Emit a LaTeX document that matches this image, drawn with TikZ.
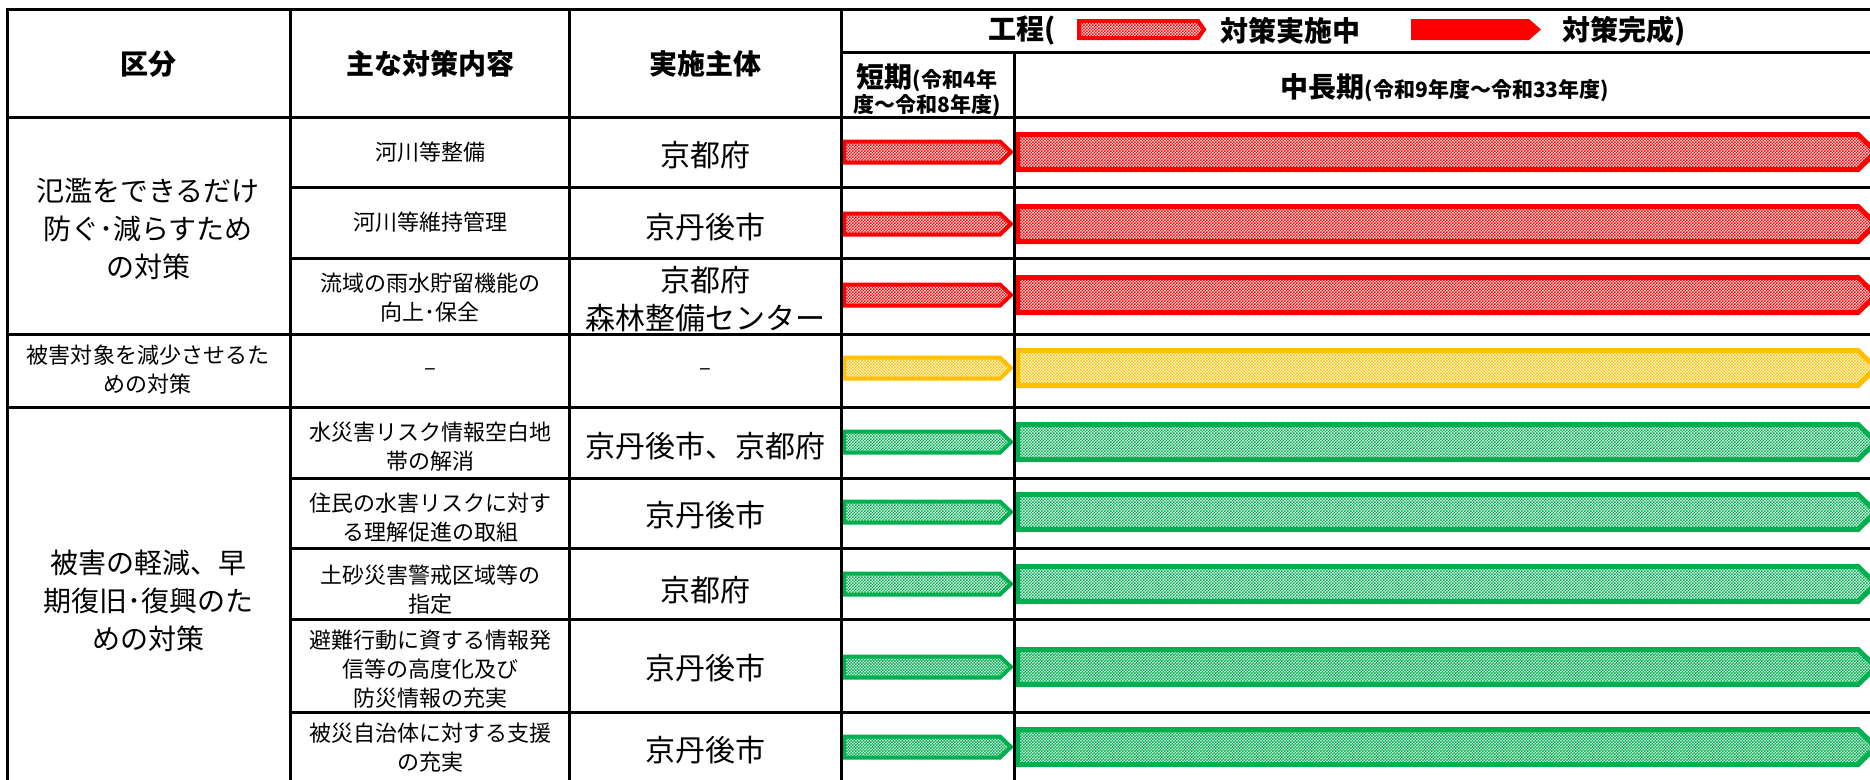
\documentclass[tikz,border=0pt]{standalone}
\usepackage{fontspec}
\setmainfont{Noto Sans CJK JP}
\usetikzlibrary{patterns}
\definecolor{jred}{HTML}{FF0000}
\definecolor{jyel}{HTML}{FFC000}
\definecolor{jgrn}{HTML}{00B050}
\pgfdeclarepatternformonly{finecheck}{\pgfqpoint{-.05pt}{-.05pt}}{\pgfqpoint{3.05pt}{3.05pt}}{\pgfqpoint{3pt}{3pt}}{%
  \pgfpathrectangle{\pgfqpoint{0pt}{0pt}}{\pgfqpoint{1.55pt}{1.55pt}}%
  \pgfpathrectangle{\pgfqpoint{1.5pt}{1.5pt}}{\pgfqpoint{1.55pt}{1.55pt}}%
  \pgfusepath{fill}}
\newcommand{\shbar}[2]{\draw[sbar=#1] (844,#2-10.5) -- (1000,#2-10.5) -- (1011,#2) -- (1000,#2+10.5) -- (844,#2+10.5) -- cycle;}
\newcommand{\lgbar}[2]{\draw[lbar=#1] (1017.5,#2-17.5) -- (1858,#2-17.5) -- (1876,#2) -- (1858,#2+17.5) -- (1017.5,#2+17.5) -- cycle;}
\begin{document}
\begin{tikzpicture}[x=1pt,y=-1pt,
  grid/.style={line width=3pt,black,line cap=rect},
  hd/.style={font=\bfseries\fontsize{28}{34}\selectfont,align=center,inner sep=0pt},
  big/.style={font=\fontsize{28}{38}\selectfont,align=center,inner sep=0pt},
  mid/.style={font=\fontsize{22}{29}\selectfont,align=center,inner sep=0pt},
  org/.style={font=\fontsize{30}{38}\selectfont,align=center,inner sep=0pt},
  sbar/.style={line width=4pt,draw=#1,pattern=finecheck,pattern color=#1},
  lbar/.style={line width=5pt,draw=#1,pattern=finecheck,pattern color=#1},
]
\useasboundingbox (0,0) rectangle (1870,779);
\clip (0,0) rectangle (1870,779);
\fill[white] (0,0) rectangle (1870,779);

% bars
\foreach \c/\col in {152/jred,224/jred,295/jred,368/jyel,442/jgrn,512/jgrn,584/jgrn,667/jgrn,747/jgrn}{
  \shbar{\col}{\c}
  \lgbar{\col}{\c}
}

% legend
\draw[line width=4pt,draw=jred,pattern=finecheck,pattern color=jred] (1079,21) -- (1198,21) -- (1204,29.5) -- (1198,38) -- (1079,38) -- cycle;
\fill[jred] (1411,19) -- (1529,19) -- (1541,29.5) -- (1529,40) -- (1411,40) -- cycle;
\node[hd,anchor=west] (lg1) at (988,31) {工程(};
\node[hd,anchor=west] (lg2) at (1220,31) {対策実施中};
\node[hd,anchor=west] (lg3) at (1562,31) {対策完成)};

% grid
\draw[grid] (7,9.5) -- (1872,9.5);
\draw[grid] (7,9.5) -- (7,782);
\draw[grid] (290,9.5) -- (290,782);
\draw[grid] (569.5,9.5) -- (569.5,782);
\draw[grid] (841,9.5) -- (841,782);
\draw[grid] (1014,52) -- (1014,782);
\draw[grid] (841,52) -- (1872,52);
\foreach \y in {117,334,407}{\draw[grid] (7,\y) -- (1872,\y);}
\foreach \y in {187,258,478,548,619,712}{\draw[grid] (290,\y) -- (1872,\y);}

% header
\node[hd] (h1) at (148,64) {区分};
\node[hd] (h2) at (430,64) {主な対策内容};
\node[hd] (h3) at (705,64) {実施主体};
\node[align=center,inner sep=0pt,font=\bfseries\fontsize{21}{25}\selectfont] (h4) at (927,90)
  {{\fontsize{28}{25}\selectfont 短期}(令和4年\\度〜令和8年度)};
\node[inner sep=0pt,font=\bfseries\fontsize{21}{25}\selectfont] (h5) at (1445,88)
  {{\fontsize{28}{34}\selectfont 中長期}(令和9年度〜令和33年度)};

% column 1
\node[big] (g1) at (148,229) {氾濫をできるだけ\\防ぐ･減らすため\\の対策};
\node[mid] (g2) at (148,370) {被害対象を減少させるた\\めの対策};
\node[big] (g3) at (148,601) {被害の軽減、早\\期復旧･復興のた\\めの対策};

% column 2
\node[mid] (m1) at (430,152) {河川等整備};
\node[mid] (m2) at (430,222) {河川等維持管理};
\node[mid] (m3) at (430,298) {流域の雨水貯留機能の\\向上･保全};
\node[mid] (m4) at (430,372) {–};
\node[mid] (m5) at (430,447) {水災害リスク情報空白地\\帯の解消};
\node[mid] (m6) at (430,518) {住民の水害リスクに対す\\る理解促進の取組};
\node[mid] (m7) at (430,590) {土砂災害警戒区域等の\\指定};
\node[mid] (m8) at (430,669) {避難行動に資する情報発\\信等の高度化及び\\防災情報の充実};
\node[mid] (m9) at (430,748) {被災自治体に対する支援\\の充実};

% column 3
\node[org] (o1) at (705,155) {京都府};
\node[org] (o2) at (705,227) {京丹後市};
\node[org] (o3) at (705,299) {京都府\\森林整備センター};
\node[mid] (o4) at (705,372) {–};
\node[org] (o5) at (705,446) {京丹後市、京都府};
\node[org] (o6) at (705,515) {京丹後市};
\node[org] (o7) at (705,590) {京都府};
\node[org] (o8) at (705,668) {京丹後市};
\node[org] (o9) at (705,750) {京丹後市};
\end{tikzpicture}
\end{document}
